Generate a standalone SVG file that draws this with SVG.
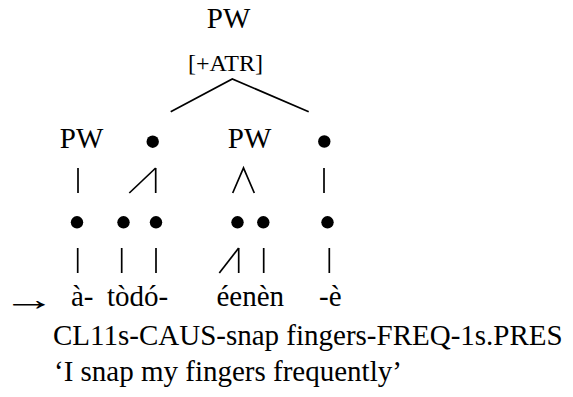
<svg xmlns="http://www.w3.org/2000/svg" width="573" height="397" viewBox="0 0 573 397">
<style>
text{font-family:"Liberation Serif","Times New Roman",serif;font-size:29px;fill:#000}
.m{text-anchor:middle}
.s{font-size:24px}
.ln{stroke:#000;stroke-width:1.7;fill:none}
.dot{fill:#000}
</style>
<rect width="573" height="397" fill="#fff"/>
<g id="connectors">
<polyline class="ln" points="170.7,111.7 232.3,79 308.7,111.7"/>
<line class="ln" x1="78" y1="168" x2="78" y2="193"/>
<line class="ln" x1="155.7" y1="168" x2="155.7" y2="193"/>
<line class="ln" x1="129.3" y1="193" x2="155.7" y2="168"/>
<polyline class="ln" points="232.7,193 243.5,168 254.3,193"/>
<line class="ln" x1="324" y1="168" x2="324" y2="193"/>
<line class="ln" x1="77.7" y1="248" x2="77.7" y2="273"/>
<line class="ln" x1="121.7" y1="248" x2="121.7" y2="273"/>
<line class="ln" x1="156" y1="248" x2="156" y2="273"/>
<line class="ln" x1="238.7" y1="248" x2="238.7" y2="273"/>
<line class="ln" x1="219.3" y1="273" x2="238.7" y2="248"/>
<line class="ln" x1="263.7" y1="248" x2="263.7" y2="273"/>
<line class="ln" x1="329.3" y1="248" x2="329.3" y2="273"/>
</g>
<g id="pw-top"><text class="m" x="228.5" y="28">PW</text><text class="m s" x="225.5" y="70.5">[+ATR]</text></g>
<g id="pw-left"><text class="m" x="81.5" y="148">PW</text></g>
<g id="syl-1"><circle class="dot" cx="152.7" cy="141.7" r="6.2"/></g>
<g id="pw-mid"><text class="m" x="249.5" y="148">PW</text></g>
<g id="syl-2"><circle class="dot" cx="324.3" cy="141.5" r="6.2"/></g>
<g id="mora-1"><circle class="dot" cx="77" cy="222.3" r="6.2"/></g>
<g id="mora-2"><circle class="dot" cx="123.5" cy="222.3" r="6.2"/></g>
<g id="mora-3"><circle class="dot" cx="156" cy="222.3" r="6.2"/></g>
<g id="mora-4"><circle class="dot" cx="237.5" cy="222.3" r="6.2"/></g>
<g id="mora-5"><circle class="dot" cx="263.3" cy="222.3" r="6.2"/></g>
<g id="mora-6"><circle class="dot" cx="327.5" cy="222.3" r="6.2"/></g>
<g id="segments">
<text transform="translate(2.5,309.5) scale(1.85,1.1)" x="0" y="0">→</text>
<text x="71" y="306">à-</text>
<text x="107" y="306">tòdó-</text>
<text x="216.5" y="306">éenèn</text>
<text x="319" y="306">-è</text>
</g>
<g id="gloss">
<text x="53" y="345">CL11s-CAUS-snap fingers-FREQ-1s.PRES</text>
<text x="54" y="381">‘I snap my fingers frequently’</text>
</g>
</svg>
